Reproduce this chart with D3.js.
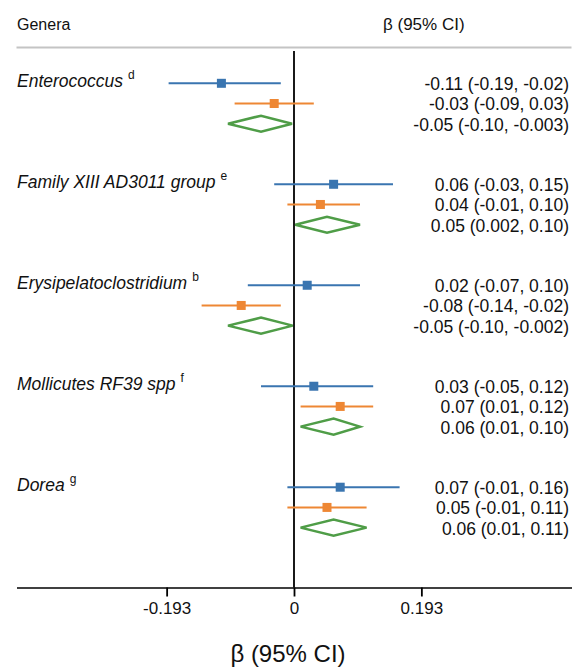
<!DOCTYPE html>
<html>
<head>
<meta charset="utf-8">
<script src="https://cdn.jsdelivr.net/npm/d3@7"></script>
<style>
  body { margin: 0; background: #fff; }
  text { font-family: "Liberation Sans", Arial, sans-serif; fill: #111; }
</style>
</head>
<body>
<svg id="chart" width="581" height="670"></svg>
<script>
// genera and their superscript notes
const genera = ['Enterococcus', 'Family XIII AD3011 group', 'Erysipelatoclostridium', 'Mollicutes RF39 spp', 'Dorea'];
const notes = ['d', 'e', 'b', 'f', 'g'];

// [estimate, lower, upper] per genus
const blueSeries = [[-0.11, -0.19, -0.02], [0.06, -0.03, 0.15], [0.02, -0.07, 0.10], [0.03, -0.05, 0.12], [0.07, -0.01, 0.16]];
const orangeSeries = [[-0.03, -0.09, 0.03], [0.04, -0.01, 0.10], [-0.08, -0.14, -0.02], [0.07, 0.01, 0.12], [0.05, -0.01, 0.11]];
const pooled = [[-0.05, -0.10, -0.003], [0.05, 0.002, 0.10], [-0.05, -0.10, -0.002], [0.06, 0.01, 0.10], [0.06, 0.01, 0.11]];

// labels on the right, as printed
const blueLabels = ['-0.11 (-0.19, -0.02)', '0.06 (-0.03, 0.15)', '0.02 (-0.07, 0.10)', '0.03 (-0.05, 0.12)', '0.07 (-0.01, 0.16)'];
const orangeLabels = ['-0.03 (-0.09, 0.03)', '0.04 (-0.01, 0.10)', '-0.08 (-0.14, -0.02)', '0.07 (0.01, 0.12)', '0.05 (-0.01, 0.11)'];
const pooledLabels = ['-0.05 (-0.10, -0.003)', '0.05 (0.002, 0.10)', '-0.05 (-0.10, -0.002)', '0.06 (0.01, 0.10)', '0.06 (0.01, 0.11)'];

const tickValues = [-0.193, 0, 0.193];
const tickLabels = ['-0.193', '0', '0.193'];

const colors = { blue: '#3a75b0', orange: '#ee8734', green: '#4f9d47' };

const svg = d3.select('#chart');
const left = 16.5, right = 571.5, axisY = 587.5, topLine = 47.5;

const x = d3.scaleLinear().domain([-0.4205, 0.4205]).range([left, right]);
// 5 slots per genus: 3 rows and 2 gap slots
const y = d3.scaleLinear().domain([0, 24]).range([83.3, 568]);
const slot = (g, r) => y(g * 5 + r);

// header
svg.append('text').attr('x', 17).attr('y', 30).attr('font-size', 16).text('Genera');
svg.append('text').attr('x', 383).attr('y', 30).attr('font-size', 17).text('β (95% CI)');
svg.append('line')
  .attr('x1', left).attr('x2', right).attr('y1', topLine).attr('y2', topLine)
  .attr('stroke', '#c4c4c4').attr('stroke-width', 2.2);

// zero line
svg.append('line')
  .attr('x1', x(0)).attr('x2', x(0)).attr('y1', 51).attr('y2', axisY)
  .attr('stroke', '#000').attr('stroke-width', 1.8);

// x axis
const axis = d3.axisBottom(x).tickValues(tickValues).tickFormat((d, i) => tickLabels[i])
  .tickSize(9).tickSizeOuter(0).tickPadding(4);
const gAxis = svg.append('g').attr('transform', `translate(0,${axisY})`).call(axis);
gAxis.select('.domain').attr('stroke', '#000').attr('stroke-width', 1.6);
gAxis.selectAll('.tick line').attr('stroke', '#000').attr('stroke-width', 1.8);
gAxis.selectAll('.tick text').attr('font-size', 17).attr('dy', null).attr('y', 26)
  .attr('font-family', '"Liberation Sans", Arial, sans-serif').attr('fill', '#111');

svg.append('text').attr('x', x(0) - 6).attr('y', 662).attr('text-anchor', 'middle')
  .attr('font-size', 24).text('β (95% CI)');

// genus labels
genera.forEach((name, g) => {
  const t = svg.append('text').attr('x', 17).attr('y', slot(g, 0) + 4).attr('font-size', 17.5);
  t.append('tspan').attr('font-style', 'italic').text(name);
  t.append('tspan').attr('font-size', 12).attr('dx', 5).attr('dy', -8).text(notes[g]);
});

// CI rows with square markers
function drawSeries(series, row, color) {
  const gr = svg.append('g');
  gr.selectAll('line').data(series).join('line')
    .attr('x1', d => x(d[1])).attr('x2', d => x(d[2]))
    .attr('y1', (d, g) => slot(g, row)).attr('y2', (d, g) => slot(g, row))
    .attr('stroke', color).attr('stroke-width', 2);
  gr.selectAll('rect').data(series).join('rect')
    .attr('x', d => x(d[0]) - 4.5).attr('y', (d, g) => slot(g, row) - 4.5)
    .attr('width', 9).attr('height', 9).attr('fill', color);
}
drawSeries(blueSeries, 0, colors.blue);
drawSeries(orangeSeries, 1, colors.orange);

// pooled diamonds
svg.append('g').selectAll('path').data(pooled).join('path')
  .attr('d', (d, g) => {
    const cy = slot(g, 2), h = 8;
    return `M${x(d[1])},${cy}L${x(d[0])},${cy - h}L${x(d[2])},${cy}L${x(d[0])},${cy + h}Z`;
  })
  .attr('fill', '#fff').attr('stroke', colors.green).attr('stroke-width', 2.5);

// value labels on the right
[blueLabels, orangeLabels, pooledLabels].forEach((labels, row) => {
  svg.append('g').selectAll('text').data(labels).join('text')
    .attr('x', 569).attr('y', (d, g) => slot(g, row) + 7)
    .attr('text-anchor', 'end').attr('font-size', 17.5).text(d => d);
});
</script>
</body>
</html>
